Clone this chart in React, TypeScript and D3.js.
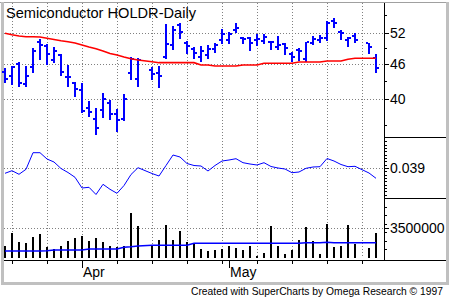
import React from 'react';
import * as d3 from 'd3';

// Weekday slots (holidays kept as empty slots: null values)
const dates = [
  '2001-03-16','2001-03-19','2001-03-20','2001-03-21','2001-03-22','2001-03-23',
  '2001-03-26','2001-03-27','2001-03-28','2001-03-29','2001-03-30',
  '2001-04-02','2001-04-03','2001-04-04','2001-04-05','2001-04-06',
  '2001-04-09','2001-04-10','2001-04-11','2001-04-12','2001-04-13',
  '2001-04-16','2001-04-17','2001-04-18','2001-04-19','2001-04-20',
  '2001-04-23','2001-04-24','2001-04-25','2001-04-26','2001-04-27',
  '2001-04-30','2001-05-01','2001-05-02','2001-05-03','2001-05-04',
  '2001-05-07','2001-05-08','2001-05-09','2001-05-10','2001-05-11',
  '2001-05-14','2001-05-15','2001-05-16','2001-05-17','2001-05-18',
  '2001-05-21','2001-05-22','2001-05-23','2001-05-24','2001-05-25',
  '2001-05-28','2001-05-29','2001-05-30',
];

const opens = [44.52,43.87,45.98,42.43,45.48,50.18,49.42,46.72,47.66,43.59,42.52,41.34,38.54,36.87,38.23,39.24,37.58,36.83,44.29,43.26,null,44.88,44.34,47.34,49.62,53.76,50.08,48.83,47.29,47.66,48.83,50.62,50.62,52.69,51.04,51.04,50.62,50.42,50.22,49.22,49.82,47.86,48.63,46.85,50.02,50.62,51.04,54.63,52.27,50.62,51.44,null,50.02,47.10];
const highs = [45.19,45.66,46.29,45.52,48.96,50.76,49.82,49.22,47.86,45.76,42.69,42.65,39.63,38.49,40.88,39.80,38.38,40.73,47.23,47.04,null,45.48,45.66,53.98,53.54,54.13,50.42,49.28,49.42,49.62,49.96,52.84,52.21,54.13,51.30,51.18,51.79,51.79,50.48,51.44,50.08,48.18,49.08,50.28,51.44,51.65,54.63,55.22,52.69,51.30,52.00,null,50.08,47.86];
const lows = [42.65,42.26,41.87,41.92,44.43,46.81,45.79,46.10,43.76,41.87,40.32,37.73,37.10,34.58,37.02,36.66,34.93,36.59,43.03,41.97,null,43.12,41.81,46.85,48.63,50.76,47.80,46.85,46.35,46.85,48.11,49.76,49.76,52.00,49.76,48.44,49.48,49.76,48.63,48.63,47.66,46.29,46.53,46.40,49.62,49.96,50.48,53.05,50.62,49.28,50.02,null,47.80,44.40];
const closes = [43.34,45.43,42.55,43.73,48.44,49.62,47.80,48.34,44.52,43.59,41.59,38.08,37.92,35.50,39.95,37.58,36.73,39.95,46.85,46.63,null,44.17,43.81,49.82,52.69,52.33,49.42,48.05,48.44,48.83,49.62,51.85,51.85,53.12,50.84,50.02,50.84,51.24,50.22,49.62,49.02,47.29,48.44,50.22,50.84,51.04,54.13,54.13,52.00,50.98,50.62,null,49.28,45.24];

// Moving average of price (red)
const priceAvg = [52.0,51.7,51.44,51.3,51.3,51.24,50.98,50.72,50.48,50.28,50.02,49.62,49.22,48.87,48.44,47.96,47.66,47.29,46.96,46.72,null,46.40,46.22,46.22,46.22,46.22,46.22,46.22,45.79,45.79,45.61,45.61,45.61,45.61,45.79,45.79,45.79,46.1,46.1,46.1,46.1,46.1,46.35,46.35,46.35,46.35,46.53,46.53,46.53,46.85,47.04,null,47.04,47.04];

// Indicator (blue, middle panel)
const indicator = [0.03741,0.03819,0.03711,0.03861,0.04359,0.04359,0.0417,0.0408,0.03885,0.03765,0.03621,0.033,0.03321,0.03105,0.03411,0.03261,0.03141,0.03375,0.03705,0.03909,null,0.03735,0.0366,0.03975,0.0429,0.0423,0.04035,0.03975,0.0396,0.0381,0.03975,0.0411,0.0414,0.04179,0.04059,0.0402,0.0399,0.04059,0.03945,0.039,0.0387,0.03759,0.0378,0.03891,0.0393,0.03939,0.04185,0.0411,0.04005,0.03939,0.03951,null,0.0375,0.03591];

// Volume and its average
const volume = [1400000,2950000,1870000,1720000,2450000,2800000,1250000,1050000,1400000,1980000,2370000,2570000,1980000,2300000,1870000,1400000,1320000,1400000,5280000,3730000,null,1520000,2100000,3850000,2100000,3150000,1900000,1720000,1050000,850000,930000,1010000,1400000,1130000,930000,1400000,270000,620000,3730000,1400000,470000,930000,2100000,3580000,1980000,470000,3970000,1320000,1400000,3850000,1600000,null,1200000,2950000];
const volumeAvg = [820000,820000,820000,820000,820000,820000,850000,930000,930000,930000,930000,930000,1050000,1050000,1050000,1050000,1050000,1250000,1300000,1400000,null,1480000,1480000,1480000,1480000,1480000,1480000,1720000,1720000,1720000,1720000,1720000,1720000,1720000,1720000,1720000,1720000,1720000,1720000,1720000,1720000,1720000,1720000,1790000,1790000,1790000,1850000,1790000,1790000,1790000,1790000,null,1790000,1790000];

const priceTicks = [52, 46, 40];
const priceMinorTicks = [56, 49, 43, 36];
const indicatorTicks = [0.039];
const volumeTicks = [3500000];
const titleText = 'Semiconductor HOLDR-Daily';
const footerText = 'Created with SuperCharts by Omega Research \u00A9 1997';

const FONT = '"Liberation Sans", Arial, sans-serif';

export default function App() {
  const parse = d3.timeParse('%Y-%m-%d');
  const parsed = dates.map((d) => parse(d) as Date);
  const n = dates.length;
  const x = d3.scaleLinear().domain([0, n - 1]).range([5, 376]);
  const yP = d3.scaleLog().domain([40, 52]).range([98.7, 33.3]);
  const yI = d3.scaleLinear().domain([0.03, 0.048]).range([198, 138]);
  const yV = d3.scaleLinear().domain([0, 3500000]).range([258, 228]);

  const plotL = 4, plotR = 384, axisR = 446, top = 3, bottom = 260;

  const idx = d3.range(n);
  const mondays = idx.filter((i) => parsed[i].getDay() === 1);
  const monthStarts = idx.filter((i) => i > 0 && parsed[i].getMonth() !== parsed[i - 1].getMonth());
  const monthFmt = d3.timeFormat('%b');

  const lineFrom = (vals: (number | null)[], y: (v: number) => number) =>
    d3.line<number>()
      .x((i) => x(i))
      .y((i) => y(vals[i] as number))(idx.filter((i) => vals[i] != null)) || '';

  const dot = { stroke: '#808080', strokeWidth: 1, strokeDasharray: '1 2' };

  return (
    <svg width={449} height={299} style={{ position: 'absolute', left: 0, top: 0, background: '#fff' }} shapeRendering="crispEdges">
      <rect x={0} y={0} width={449} height={299} fill="#fff" />
      {/* frame */}
      <rect x={0} y={2} width={449} height={1} fill="#a0a0a0" />
      <rect x={1} y={2} width={3} height={283} fill="#c0c0c0" />
      <rect x={446} y={2} width={3} height={283} fill="#c0c0c0" />
      <rect x={1} y={282} width={448} height={3} fill="#c0c0c0" />

      {/* vertical grid */}
      {mondays.map((i) => (
        <line key={'vg' + i} x1={Math.round(x(i)) + 0.5} x2={Math.round(x(i)) + 0.5} y1={top} y2={257} {...dot} />
      ))}
      {/* horizontal grid */}
      {priceTicks.map((t) => (
        <line key={'pg' + t} x1={plotL} x2={plotR} y1={Math.round(yP(t)) + 0.5} y2={Math.round(yP(t)) + 0.5} {...dot} />
      ))}
      {indicatorTicks.map((t) => (
        <line key={'ig' + t} x1={plotL} x2={plotR} y1={Math.round(yI(t)) + 0.5} y2={Math.round(yI(t)) + 0.5} {...dot} />
      ))}
      {volumeTicks.map((t) => (
        <line key={'vgr' + t} x1={plotL} x2={plotR} y1={Math.round(yV(t)) + 0.5} y2={Math.round(yV(t)) + 0.5} {...dot} />
      ))}

      {/* price bars */}
      {idx.filter((i) => highs[i] != null).map((i) => {
        const cx = Math.round(x(i));
        const yh = yP(highs[i] as number), yl = yP(lows[i] as number);
        const yo = yP(opens[i] as number), yc = yP(closes[i] as number);
        return (
          <g key={'b' + i} fill="#0000ff">
            <rect x={cx - 1} y={yh} width={2} height={yl - yh} />
            <rect x={cx - 3} y={yo - 1} width={2} height={2} />
            <rect x={cx + 1} y={yc - 1} width={2} height={2} />
          </g>
        );
      })}
      <path d={lineFrom(priceAvg, yP)} fill="none" stroke="#ff0000" strokeWidth={1.6} shapeRendering="auto" />

      {/* indicator */}
      <path d={lineFrom(indicator, yI)} fill="none" stroke="#0000ff" strokeWidth={1} shapeRendering="auto" />

      {/* volume */}
      {idx.filter((i) => volume[i] != null).map((i) => {
        const cx = Math.round(x(i));
        return <rect key={'v' + i} x={cx - 1} y={yV(volume[i] as number)} width={2} height={yV(0) - yV(volume[i] as number)} fill="#000" />;
      })}
      <path d={lineFrom(volumeAvg, yV)} fill="none" stroke="#0000ff" strokeWidth={1.5} shapeRendering="auto" />

      {/* axes */}
      <line x1={plotR + 0.5} x2={plotR + 0.5} y1={top} y2={bottom} stroke="#000" />
      <line x1={plotL} x2={449} y1={bottom + 0.5} y2={bottom + 0.5} stroke="#000" />
      <line x1={plotR} x2={axisR} y1={137.5} y2={137.5} stroke="#000" />
      <line x1={plotR} x2={axisR} y1={198.5} y2={198.5} stroke="#000" />

      {priceTicks.map((t) => (
        <g key={'pt' + t}>
          <line x1={plotR} x2={plotR + 5} y1={Math.round(yP(t)) + 0.5} y2={Math.round(yP(t)) + 0.5} stroke="#000" />
          <text x={plotR + 6} y={yP(t) + 5} fontFamily={FONT} fontSize={14} fill="#000">{t}</text>
        </g>
      ))}
      {priceMinorTicks.map((t) => (
        <line key={'pm' + t} x1={plotR} x2={plotR + 3} y1={Math.round(yP(t)) + 0.5} y2={Math.round(yP(t)) + 0.5} stroke="#000" />
      ))}
      {indicatorTicks.map((t) => (
        <g key={'it' + t}>
          <line x1={plotR} x2={plotR + 5} y1={Math.round(yI(t)) + 0.5} y2={Math.round(yI(t)) + 0.5} stroke="#000" />
          <text x={plotR + 6} y={yI(t) + 5} fontFamily={FONT} fontSize={14} fill="#000">{t.toFixed(3)}</text>
        </g>
      ))}
      {d3.range(0.031, 0.0475, 0.001).map((t) => (
        <line key={'im' + t} x1={plotR} x2={plotR + 3} y1={Math.round(yI(t)) + 0.5} y2={Math.round(yI(t)) + 0.5} stroke="#000" />
      ))}
      {volumeTicks.map((t) => (
        <g key={'vt' + t}>
          <line x1={plotR} x2={plotR + 5} y1={Math.round(yV(t)) + 0.5} y2={Math.round(yV(t)) + 0.5} stroke="#000" />
          <text x={plotR + 6} y={yV(t) + 5} fontFamily={FONT} fontSize={14} fill="#000">{t}</text>
        </g>
      ))}
      {[1000000, 2000000, 3000000, 4000000, 5000000, 6000000].map((t) => (
        <line key={'vm' + t} x1={plotR} x2={plotR + 3} y1={Math.round(yV(t)) + 0.5} y2={Math.round(yV(t)) + 0.5} stroke="#000" />
      ))}
      {/* redraw right frame over clipped labels */}
      <rect x={446} y={2} width={3} height={283} fill="#c0c0c0" />

      {/* x axis ticks */}
      {mondays.map((i) => (
        <line key={'xt' + i} x1={Math.round(x(i)) + 0.5} x2={Math.round(x(i)) + 0.5} y1={bottom} y2={bottom + 4} stroke="#000" />
      ))}
      {monthStarts.map((i) => (
        <g key={'ms' + i}>
          <line x1={Math.round(x(i)) + 0.5} x2={Math.round(x(i)) + 0.5} y1={bottom} y2={bottom + 8} stroke="#000" />
          <text x={Math.round(x(i)) + 1} y={277} fontFamily={FONT} fontSize={14} fill="#000">{monthFmt(parsed[i])}</text>
        </g>
      ))}

      {/* title & footer */}
      <text x={6} y={18} fontFamily={FONT} fontSize={15} fill="#000" textLength={190} lengthAdjust="spacingAndGlyphs">{titleText}</text>
      <text x={191} y={295} fontFamily={FONT} fontSize={10.3} fill="#000">{footerText}</text>
    </svg>
  );
}
